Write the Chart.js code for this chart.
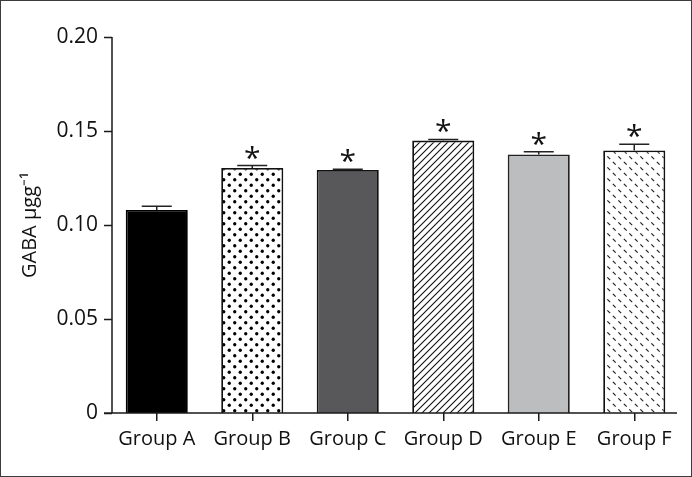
<!DOCTYPE html>
<html>
<head>
<meta charset="utf-8">
<script src="https://cdn.jsdelivr.net/npm/chart.js@4.4.1/dist/chart.umd.min.js"></script>
<style>
  html, body { margin: 0; padding: 0; background: #fff; }
  #frame { width: 692px; height: 477px; box-sizing: border-box; border: 1px solid #3c3c3c; background: #fff; }
  canvas { display: block; }
</style>
</head>
<body>
<div id="frame"><canvas id="c" width="690" height="475"></canvas></div>
<script>
// ---- data ----
const categories = ['Group A', 'Group B', 'Group C', 'Group D', 'Group E', 'Group F'];
const meanValues = [0.108, 0.1303, 0.1293, 0.1449, 0.1375, 0.1396];
const errorUpper = [0.1100, 0.1316, 0.1297, 0.1455, 0.1390, 0.1429];
const significant = [false, true, true, true, true, true];
const yTickValues = [0, 0.05, 0.10, 0.15, 0.20];
const yTitle = 'GABA \u03bcgg\u207b\u00b9';

// ---- patterns ----
function makeTile(w, h, draw) {
  const t = document.createElement('canvas');
  t.width = w; t.height = h;
  const g = t.getContext('2d');
  g.fillStyle = '#fff';
  g.fillRect(0, 0, w, h);
  draw(g);
  return document.getElementById('c').getContext('2d').createPattern(t, 'repeat');
}
const dotPattern = makeTile(11, 11, g => {
  g.fillStyle = '#000';
  [[2.75, 2.75], [8.25, 8.25]].forEach(([x, y]) => { g.beginPath(); g.arc(x, y, 1.65, 0, Math.PI * 2); g.fill(); });
});
const hatchPattern = makeTile(7, 7, g => {
  g.strokeStyle = '#111'; g.lineWidth = 1.1;
  g.beginPath();
  g.moveTo(-1, 8); g.lineTo(8, -1);
  g.moveTo(-1, 1); g.lineTo(1, -1);
  g.moveTo(6, 8); g.lineTo(8, 6);
  g.stroke();
});
const dashPattern = makeTile(11, 11, g => {
  g.strokeStyle = '#222'; g.lineWidth = 1.2;
  g.beginPath();
  [[2.75, 2.75], [8.25, 8.25]].forEach(([x, y]) => { g.moveTo(x - 1.4, y - 1.4); g.lineTo(x + 1.4, y + 1.4); });
  g.stroke();
});

const fills = ['#000000', dotPattern, '#58585a', hatchPattern, '#bcbdbf', dashPattern];

const AXIS_X = 111;      // y-axis line position (canvas px)
const TICK_LEN = 8;
const X_AXIS_RIGHT = 676;

const decorPlugin = {
  id: 'decor',
  afterDatasetsDraw(chart) {
    const ctx = chart.ctx;
    const y = chart.scales.y;
    const meta = chart.getDatasetMeta(0);
    const bottom = chart.chartArea.bottom;
    ctx.save();
    ctx.strokeStyle = '#1a1a1a';
    ctx.lineWidth = 1.5;
    // y axis
    ctx.beginPath();
    ctx.moveTo(AXIS_X, y.getPixelForValue(0.2));
    ctx.lineTo(AXIS_X, bottom);
    yTickValues.forEach(v => {
      const py = Math.round(y.getPixelForValue(v)) + 0.5;
      ctx.moveTo(AXIS_X - TICK_LEN, py);
      ctx.lineTo(AXIS_X, py);
    });
    // x axis
    ctx.moveTo(AXIS_X - TICK_LEN, bottom);
    ctx.lineTo(X_AXIS_RIGHT, bottom);
    ctx.stroke();

    // error bars
    ctx.lineWidth = 1.5;
    ctx.strokeStyle = '#222';
    meta.data.forEach((bar, i) => {
      const top = y.getPixelForValue(meanValues[i]);
      const cap = y.getPixelForValue(errorUpper[i]);
      ctx.beginPath();
      ctx.moveTo(bar.x, top);
      ctx.lineTo(bar.x, cap);
      ctx.moveTo(bar.x - 15, cap);
      ctx.lineTo(bar.x + 15, cap);
      ctx.stroke();
    });

    // significance asterisks
    ctx.fillStyle = '#111';
    ctx.font = '30px "Open Sans"';
    ctx.textAlign = 'center';
    ctx.textBaseline = 'alphabetic';
    const m = ctx.measureText('*');
    const inkMid = (m.actualBoundingBoxAscent - m.actualBoundingBoxDescent) / 2;
    meta.data.forEach((bar, i) => {
      if (!significant[i]) return;
      const cap = y.getPixelForValue(errorUpper[i]);
      ctx.fillText('*', bar.x, cap - 13 + inkMid);
    });
    ctx.restore();
  }
};

new Chart(document.getElementById('c'), {
  type: 'bar',
  data: {
    labels: categories,
    datasets: [{
      data: meanValues,
      backgroundColor: fills,
      borderColor: ['#000', '#111', '#111', '#111', '#222', '#111'],
      borderWidth: 1.8,
      borderSkipped: 'bottom',
      barPercentage: 0.65,
      categoryPercentage: 1.0
    }]
  },
  options: {
    responsive: false,
    devicePixelRatio: 1,
    animation: false,
    events: [],
    layout: { padding: { top: 36, right: 9, left: 0, bottom: 0 } },
    plugins: { legend: { display: false }, tooltip: { enabled: false } },
    scales: {
      x: {
        type: 'category',
        offset: true,
        grid: { display: true, offset: false, drawOnChartArea: false, drawTicks: true, tickLength: 8, color: '#1a1a1a', lineWidth: 1.5 },
        border: { display: false },
        ticks: { color: '#111', padding: 6, font: { family: 'Open Sans', size: 20 }, maxRotation: 0, autoSkip: false },
        afterFit(s) { s.height = 63; }
      },
      y: {
        min: 0,
        max: 0.2,
        afterBuildTicks(s) { s.ticks = yTickValues.map(v => ({ value: v })); },
        grid: { display: false },
        border: { display: false },
        ticks: {
          color: '#111',
          padding: 3,
          font: { family: 'Open Sans', size: 21 },
          callback: v => (v === 0 ? '0' : v.toFixed(2))
        },
        title: {
          display: true,
          text: yTitle,
          color: '#111',
          font: { family: 'Open Sans', size: 20 },
          padding: { top: 17, bottom: 0 }
        },
        afterFit(s) { s.width = 108; }
      }
    }
  },
  plugins: [decorPlugin]
});
</script>
</body>
</html>
